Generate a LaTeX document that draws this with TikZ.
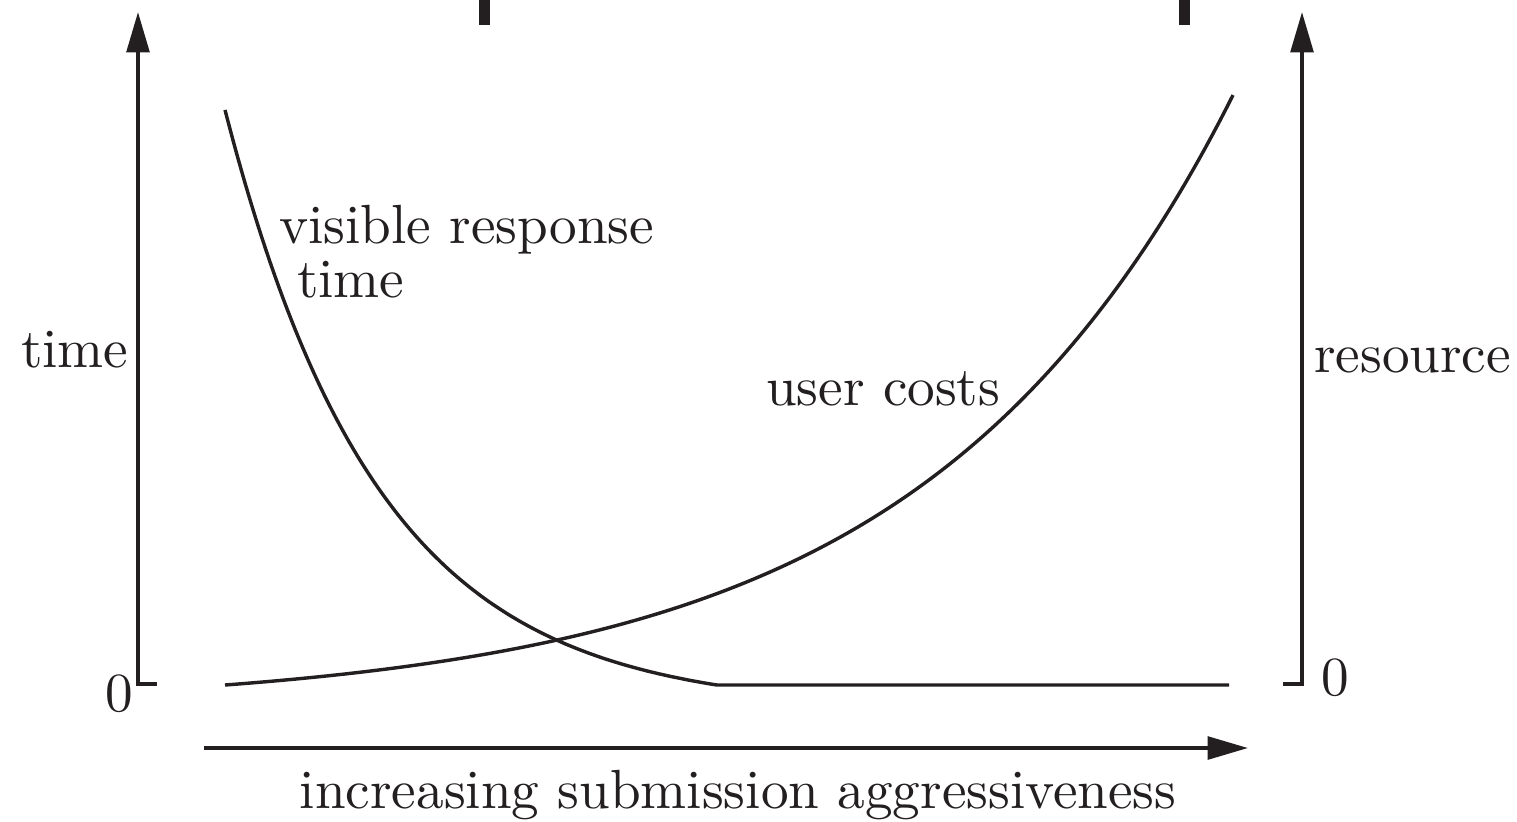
\documentclass[tikz,border=0pt]{standalone}
\usetikzlibrary{arrows.meta}
\definecolor{ink}{RGB}{35,31,32}
\tikzset{
  axis/.style={draw=ink, line width=0.68pt, line join=miter},
  axisarrow/.style={axis, -{Triangle[length=7.3pt,width=4.1pt]}},
  curve/.style={draw=ink, line width=0.62pt, line join=round},
  lbl/.style={inner sep=0pt, text=ink, anchor=base west},
}
\begin{document}
\begin{tikzpicture}[x=0.1812pt, y=-0.1812pt]
  \useasboundingbox (0,0) rectangle (1517,821);

  % stubs of lettering cut off at the top edge
  \fill[ink] (479,0) rectangle (490,25);
  \fill[ink] (1179,0) rectangle (1190,25);

  % axes
  \coordinate (ltop) at (138,12);
  \coordinate (lbot) at (138,684);
  \coordinate (ltick) at (157,684);
  \coordinate (rtop) at (1302,12);
  \coordinate (rbot) at (1302,684);
  \coordinate (rtick) at (1283,684);
  \coordinate (xstart) at (204,748);
  \coordinate (xend) at (1248,748);

  \draw[axisarrow] (ltick) -- (lbot) -- (ltop);
  \draw[axisarrow] (rtick) -- (rbot) -- (rtop);
  \draw[axisarrow] (xstart) -- (xend);

  % visible response time: decaying curve, then flat at zero
  \draw[curve] plot[domain=225:717, samples=120]
    (\x, {685 - 599.5*(exp(-0.0065*(\x-225)) - 0.0408)}) -- (1229,685);

  % user costs: growing curve
  \draw[curve] plot[domain=225:1233, samples=150]
    (\x, {685 - 23.16*(exp(0.00325*(\x-225)) - 1)});

  % labels
  \node[lbl] (ytime) at (20,367) {time};
  \node[lbl] (yres) at (1313,372) {resource};
  \node[lbl, anchor=base] (lzero) at (119,711) {0};
  \node[lbl] (rzero) at (1320,695) {0};
  \node[lbl] (vr1) at (278,243) {visible response};
  \node[lbl] (vr2) at (296,297) {time};
  \node[lbl] (uc) at (765,405) {user costs};
  \node[lbl, anchor=base] (xlab) at (738,808) {increasing submission aggressiveness};
\end{tikzpicture}
\end{document}
